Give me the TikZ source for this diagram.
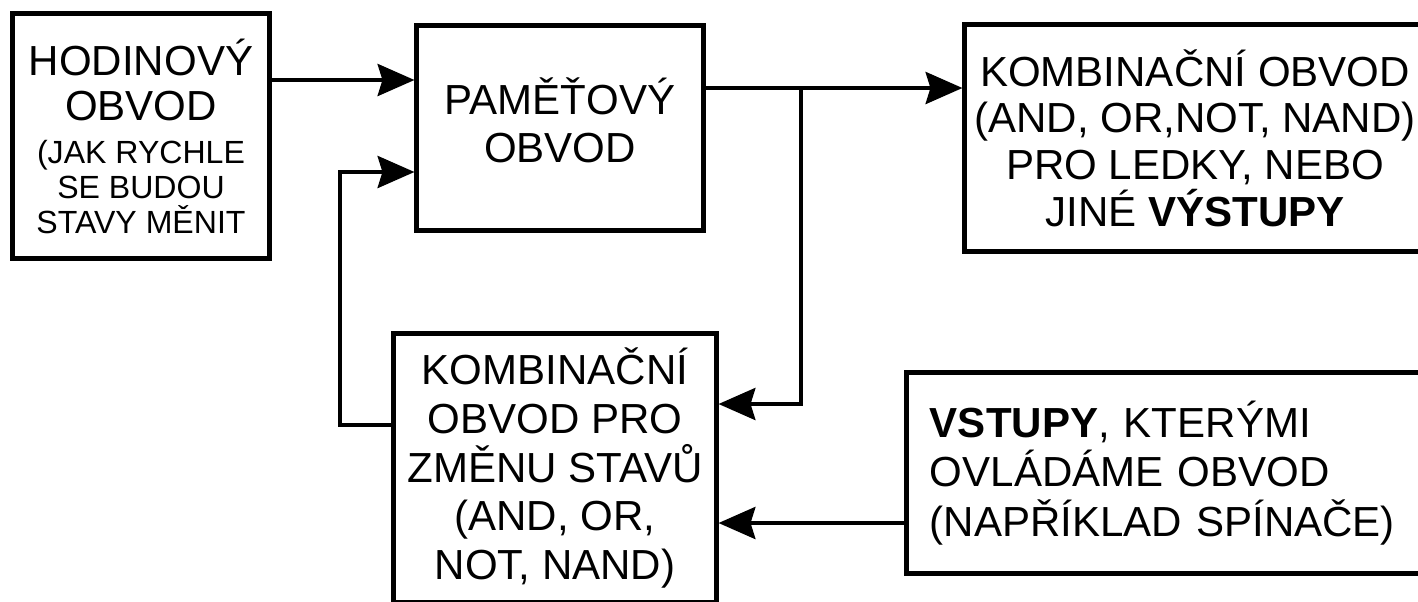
\documentclass[tikz,border=0pt]{standalone}
\usepackage{fontspec}
\setmainfont{Liberation Sans}
\usetikzlibrary{arrows.meta}

\newcommand{\smalltxt}{\fontsize{22.8}{25}\selectfont}

\tikzset{
  blk/.style={draw, line width=0.125cm, inner sep=0pt, align=center},
  arr/.style={line width=0.1cm, -{Stealth[length=0.92cm, width=0.8cm, inset=0.12cm]}}
}

\begin{document}
\begin{tikzpicture}[x=0.025cm, y=-0.025cm]

\clip (0,0) rectangle (1418,601);
\fill[white] (0,0) rectangle (1418,601);

\coordinate (T) at (801,88);
\coordinate (K) at (340,172);

\node[blk, minimum width=6.4cm, minimum height=6.1cm, font=\fontsize{29.9}{32}\selectfont] (clk) at (141,136)
  {HODINOVÝ\\OBVOD\\[-1.4pt]{\smalltxt (JAK RYCHLE}\\[-7.1pt]{\smalltxt SE BUDOU}\\[-7.1pt]{\smalltxt STAVY MĚNIT}};

\node[blk, minimum width=7.15cm, minimum height=5.1cm, text depth=0.4cm, font=\fontsize{29.9}{34.1}\selectfont] (mem) at (560,128)
  {PAMĚŤOVÝ\\OBVOD};

\node[blk, minimum width=11.5cm, minimum height=5.65cm, font=\fontsize{29.9}{33.2}\selectfont] (outc) at (1195,138)
  {KOMBINAČNÍ OBVOD\\(AND, OR,NOT, NAND)\\PRO LEDKY, NEBO\\JINÉ \textbf{VÝSTUPY}};

\node[blk, minimum width=8.05cm, minimum height=6.7cm, font=\fontsize{29.9}{34.8}\selectfont] (nxt) at (555,468)
  {KOMBINAČNÍ\\OBVOD PRO\\ZMĚNU STAVŮ\\(AND, OR,\\NOT, NAND)};

\node[blk, align=left, text width=11.8cm, inner xsep=0.575cm, minimum height=5cm, font=\fontsize{29.9}{35.2}\selectfont] (inp) at (1166,473)
  {\textbf{VSTUPY}, KTERÝMI\\OVLÁDÁME OBVOD\\(NAPŘÍKLAD SPÍNAČE)};

\draw[arr] (clk.east |- 0,80) -- (mem.west |- 0,80);
\draw[arr] (mem.east |- T) -- (outc.west |- T);
\draw[arr] (T) |- (nxt.east |- 0,404);
\draw[arr] (nxt.west |- 0,425) -| (K) -- (mem.west |- K);
\draw[arr] (inp.west |- 0,523) -- (nxt.east |- 0,523);

\end{tikzpicture}
\end{document}
